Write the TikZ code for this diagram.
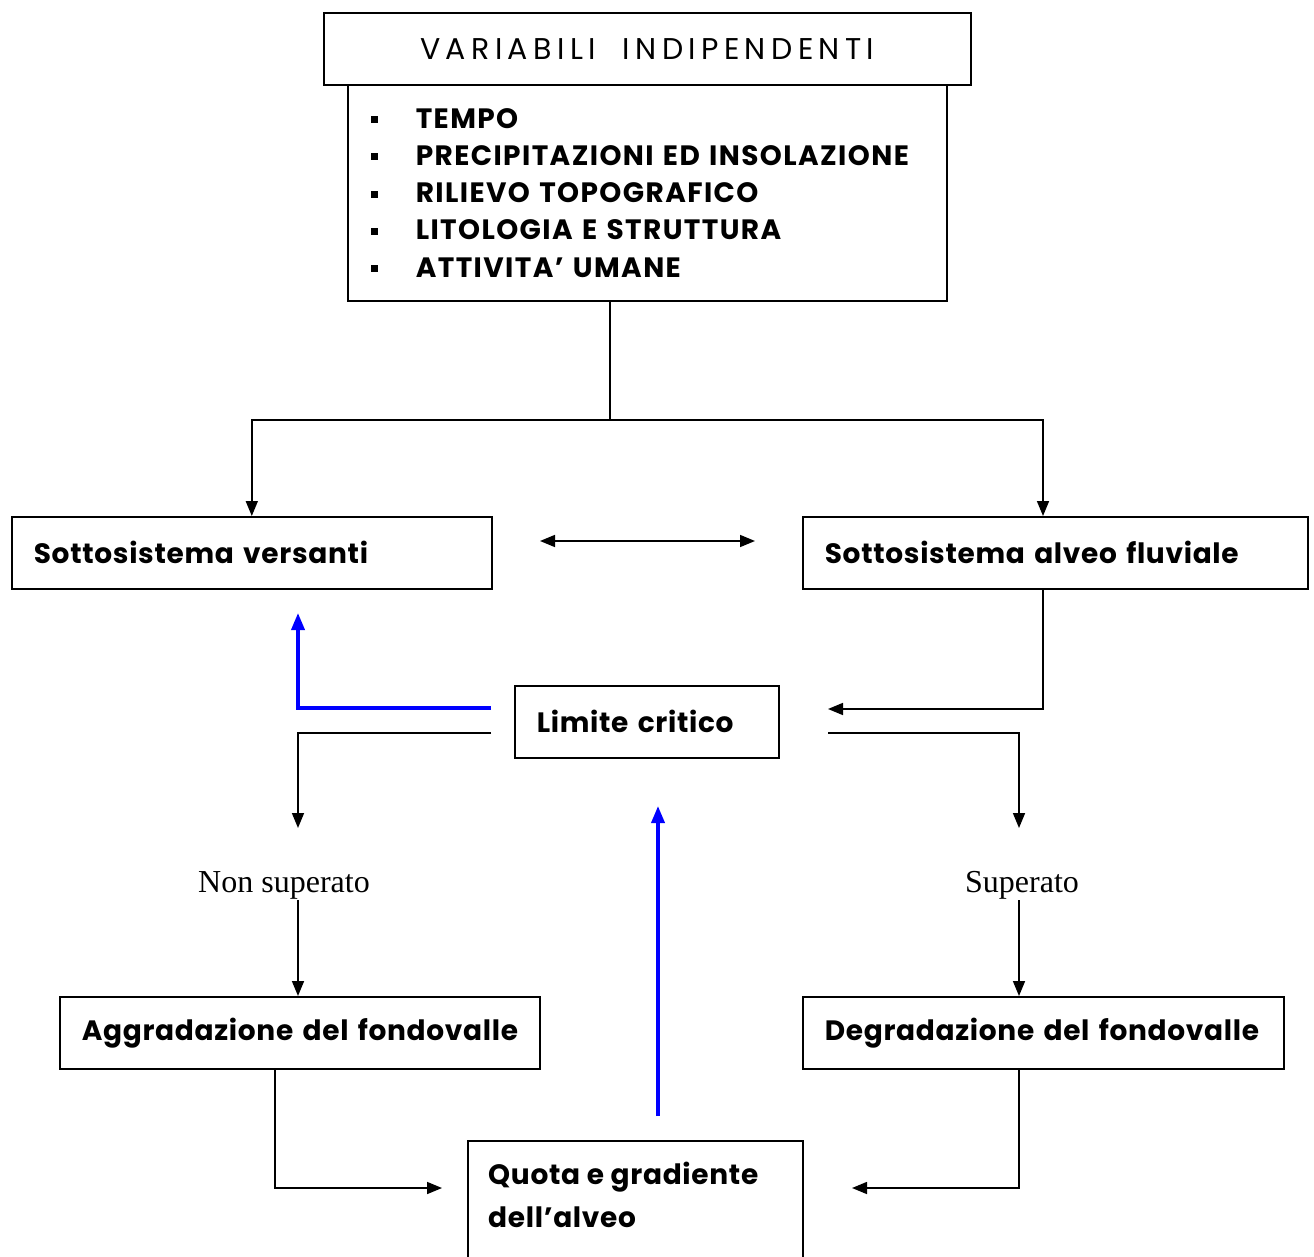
\documentclass[tikz,border=0pt]{standalone}
\usepackage{fontspec}
\setmainfont{Poppins}
\newfontfamily\serifface{Liberation Serif}
\newfontfamily\hdrface[LetterSpace=18]{Poppins}
\newfontfamily\listface[LetterSpace=5]{Poppins}
\newfontfamily\lblface[LetterSpace=2.5]{Poppins}
\usetikzlibrary{arrows.meta}

\tikzset{
  box/.style={draw, line width=1.6pt, inner ysep=0pt, anchor=north west, minimum height=72pt},
  boldlbl/.style={font=\lblface\bfseries\fontsize{28}{34}\selectfont, align=left},
  conn/.style={line width=1.6pt},
  arr/.style={conn, -{Triangle[length=15pt,width=12pt]}},
  biarr/.style={conn, {Triangle[length=15pt,width=12pt]}-{Triangle[length=15pt,width=12pt]}},
  bluearr/.style={line width=3.6pt, draw={rgb,255:red,0;green,0;blue,255},
    -{Triangle[length=17pt,width=13pt]}},
  outcome/.style={font=\serifface\fontsize{32}{36}\selectfont, inner sep=0pt}
}
\newcommand{\bul}{\makebox[45pt][l]{\rule[5pt]{7pt}{7pt}}}

\begin{document}
\begin{tikzpicture}[x=1pt,y=-1pt]
\useasboundingbox (0,0) rectangle (1314,1257);

% independent variables
\node[box, minimum width=599pt, minimum height=216pt, inner xsep=23pt,
      text width=553pt, align=left,
      font=\listface\bfseries\fontsize{28}{37.3}\selectfont] (list) at (347,84)
  {\bul TEMPO\\
   \bul PRECIPITAZIONI ED INSOLAZIONE\\
   \bul RILIEVO TOPOGRAFICO\\
   \bul LITOLOGIA E STRUTTURA\\
   \bul ATTIVITA’ UMANE};
\node[box, fill=white, minimum width=647pt, font=\hdrface\fontsize{30}{34}\selectfont] (hdr) at (323,12)
  {VARIABILI\ \ INDIPENDENTI};

% subsystems
\node[box, boldlbl, minimum width=480pt, inner xsep=22pt, text width=436pt] (vers) at (11,516)
  {\mbox{Sottosistema versanti}};
\node[box, boldlbl, minimum width=505pt, inner xsep=22pt, text width=461pt] (alv) at (802,516)
  {\mbox{Sottosistema alveo fluviale}};

% critical threshold
\node[box, boldlbl, minimum width=264pt, inner xsep=22pt, text width=220pt] (lim) at (514,685)
  {\mbox{Limite critico}};

% outcomes
\node[outcome] (nons) at (284,885) {Non superato};
\node[outcome] (sup) at (1022,885) {Superato};

\node[box, boldlbl, minimum width=480pt, inner xsep=22pt, text width=436pt] (aggr) at (59,996)
  {\mbox{Aggradazione del fondovalle}};
\node[box, boldlbl, minimum width=481pt, inner xsep=22pt, text width=437pt] (degr) at (802,996)
  {\mbox{Degradazione del fondovalle}};

% channel level and gradient
\node[box, minimum width=335pt, minimum height=140pt] (quota) at (467,1140) {};
\node[boldlbl, anchor=north west, inner sep=0pt, font=\lblface\bfseries\fontsize{28}{43}\selectfont]
  (quotatxt) at (488,1162) {Quota e gradiente\\dell’alveo};

% branch points and free arrow ends
\coordinate (split) at (610,420);
\coordinate (rbr) at (1043,420);
\coordinate (dl) at (540,541);
\coordinate (dr) at (755,541);
\coordinate (limin) at (828,709);
\coordinate (bluestart) at (491,708);
\coordinate (blueend) at (298,613);
\coordinate (lout) at (491,733);
\coordinate (ldown) at (298,828);
\coordinate (rout) at (828,733);
\coordinate (rdown) at (1019,828);
\coordinate (nsx) at (298,900);
\coordinate (sux) at (1019,900);
\coordinate (aggx) at (275,1068);
\coordinate (qleft) at (442,1188);
\coordinate (degx) at (1019,1068);
\coordinate (qright) at (852,1188);
\coordinate (upstart) at (658,1116);
\coordinate (upend) at (658,806);

% connectors
\draw[conn] (split |- list.south) -- (split);
\draw[arr] (split) -| (vers.north);
\draw[arr] (split) -| (rbr |- alv.north);
\draw[biarr] (dl) -- (dr);
\draw[arr] (rbr |- alv.south) |- (limin);
\draw[bluearr] (bluestart) -| (blueend);
\draw[arr] (lout) -| (ldown);
\draw[arr] (rout) -| (rdown);
\draw[arr] (nsx) -- (nsx |- aggr.north);
\draw[arr] (sux) -- (sux |- degr.north);
\draw[arr] (aggx) |- (qleft);
\draw[arr] (degx) |- (qright);
\draw[bluearr] (upstart) -- (upend);
\end{tikzpicture}
\end{document}
